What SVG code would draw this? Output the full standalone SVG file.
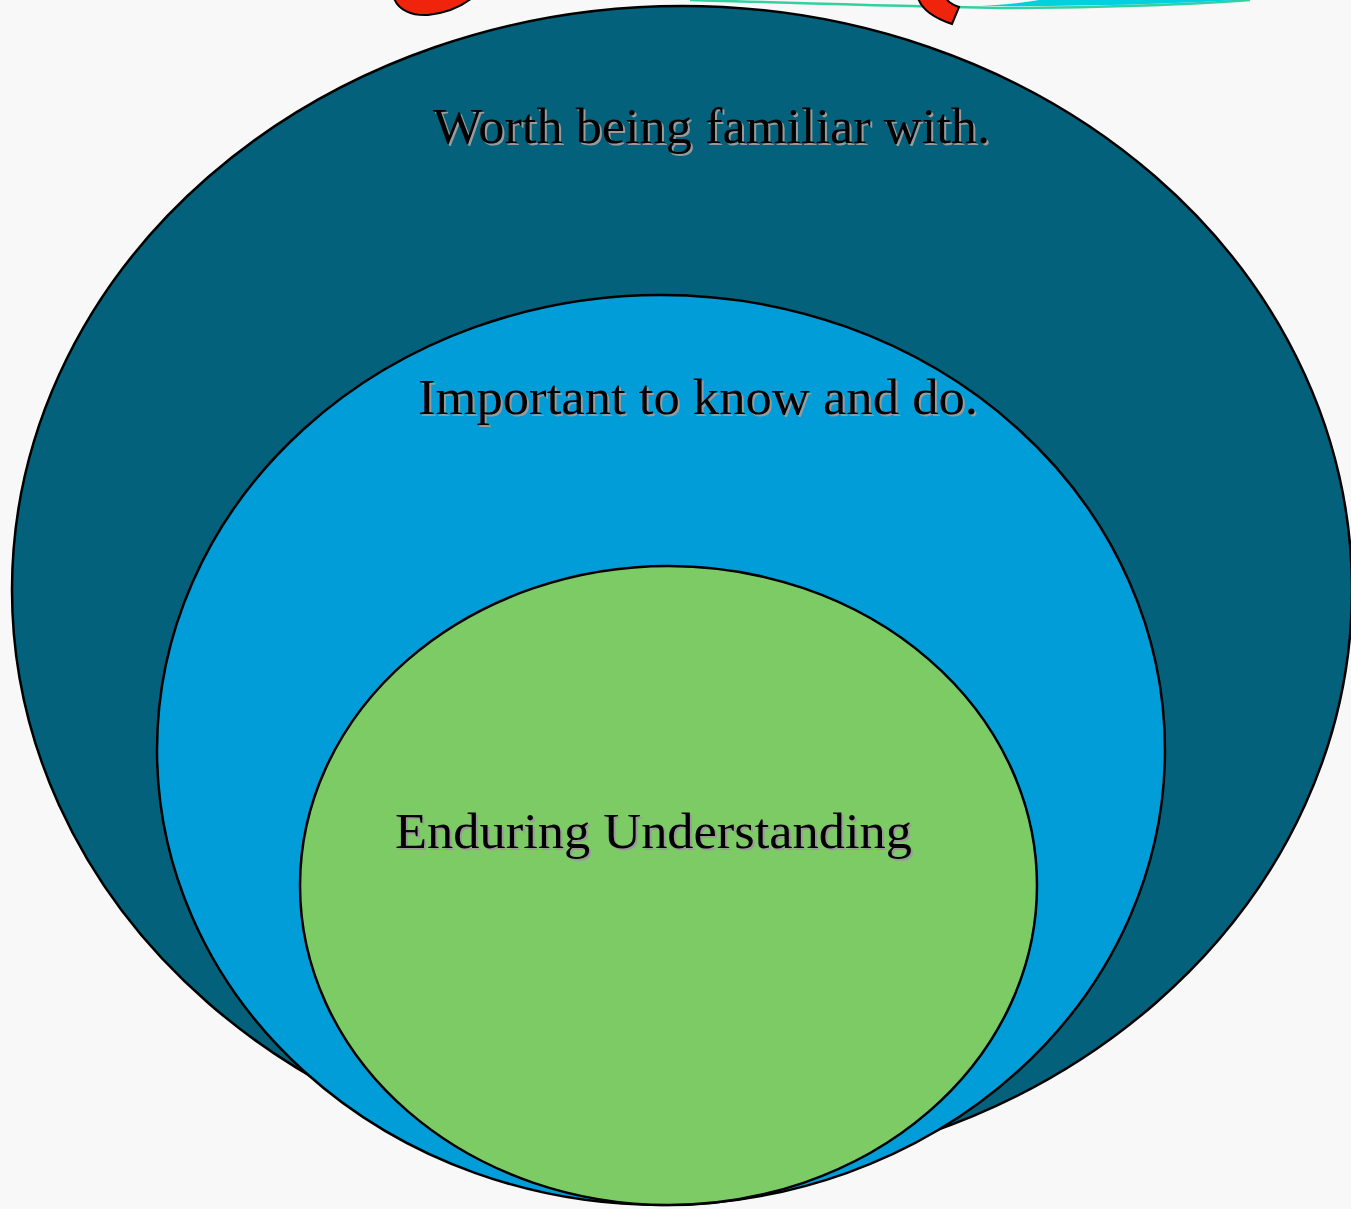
<svg xmlns="http://www.w3.org/2000/svg" width="1351" height="1209" viewBox="0 0 1351 1209">
  <defs>
    <style>
      .ring { stroke: #000; stroke-width: 2.5; }
      .label { font-family: "Liberation Serif", "DejaVu Serif", serif; font-size: 50px; fill: #000; }
      .shade { font-family: "Liberation Serif", "DejaVu Serif", serif; font-size: 50px; fill: #9a9a9a; }
      .blob { fill: #f0240c; stroke: #000; stroke-width: 2; }
    </style>
  </defs>
  <rect x="0" y="0" width="1351" height="1209" fill="#f8f8f8"/>

  <!-- decorative fragments along the top edge -->
  <g id="top-decor">
    <path d="M690,0 C800,3 880,6 1000,8 C1100,8 1200,4 1250,0" fill="none" stroke="#33d0a0" stroke-width="2.5"/>
    <path d="M980,6 C1080,7 1200,3 1252,-1 L1252,-2 L1050,-2 C1030,2 1005,5 980,6 Z" fill="#00d0e0"/>
    <path class="blob" d="M394,-2 C398,10 412,16 428,15 C446,13 462,6 472,-2 Z"/>
    <path class="blob" d="M918,-2 C922,10 934,18 952,24 L959,7 C953,5 948,2 946,-2 Z"/>
  </g>

  <g id="worth-familiar">
    <ellipse class="ring" cx="682" cy="590" rx="670" ry="584" fill="#03617b"/>
    <text class="shade" x="435" y="145" textLength="557" lengthAdjust="spacingAndGlyphs">Worth being familiar with.</text>
    <text class="label" x="433" y="143" textLength="557" lengthAdjust="spacingAndGlyphs">Worth being familiar with.</text>
  </g>

  <g id="important-know-do">
    <ellipse class="ring" cx="661" cy="750" rx="504" ry="455" fill="#009dd8"/>
    <text class="shade" x="420" y="416" textLength="560" lengthAdjust="spacingAndGlyphs">Important to know and do.</text>
    <text class="label" x="418" y="414" textLength="560" lengthAdjust="spacingAndGlyphs">Important to know and do.</text>
  </g>

  <g id="enduring-understanding">
    <ellipse class="ring" cx="668.5" cy="885.5" rx="368.5" ry="319.5" fill="#7dcb64"/>
    <text class="shade" x="397" y="850" textLength="517" lengthAdjust="spacingAndGlyphs">Enduring Understanding</text>
    <text class="label" x="395" y="848" textLength="517" lengthAdjust="spacingAndGlyphs">Enduring Understanding</text>
  </g>

  <g id="connectors"/>
</svg>
